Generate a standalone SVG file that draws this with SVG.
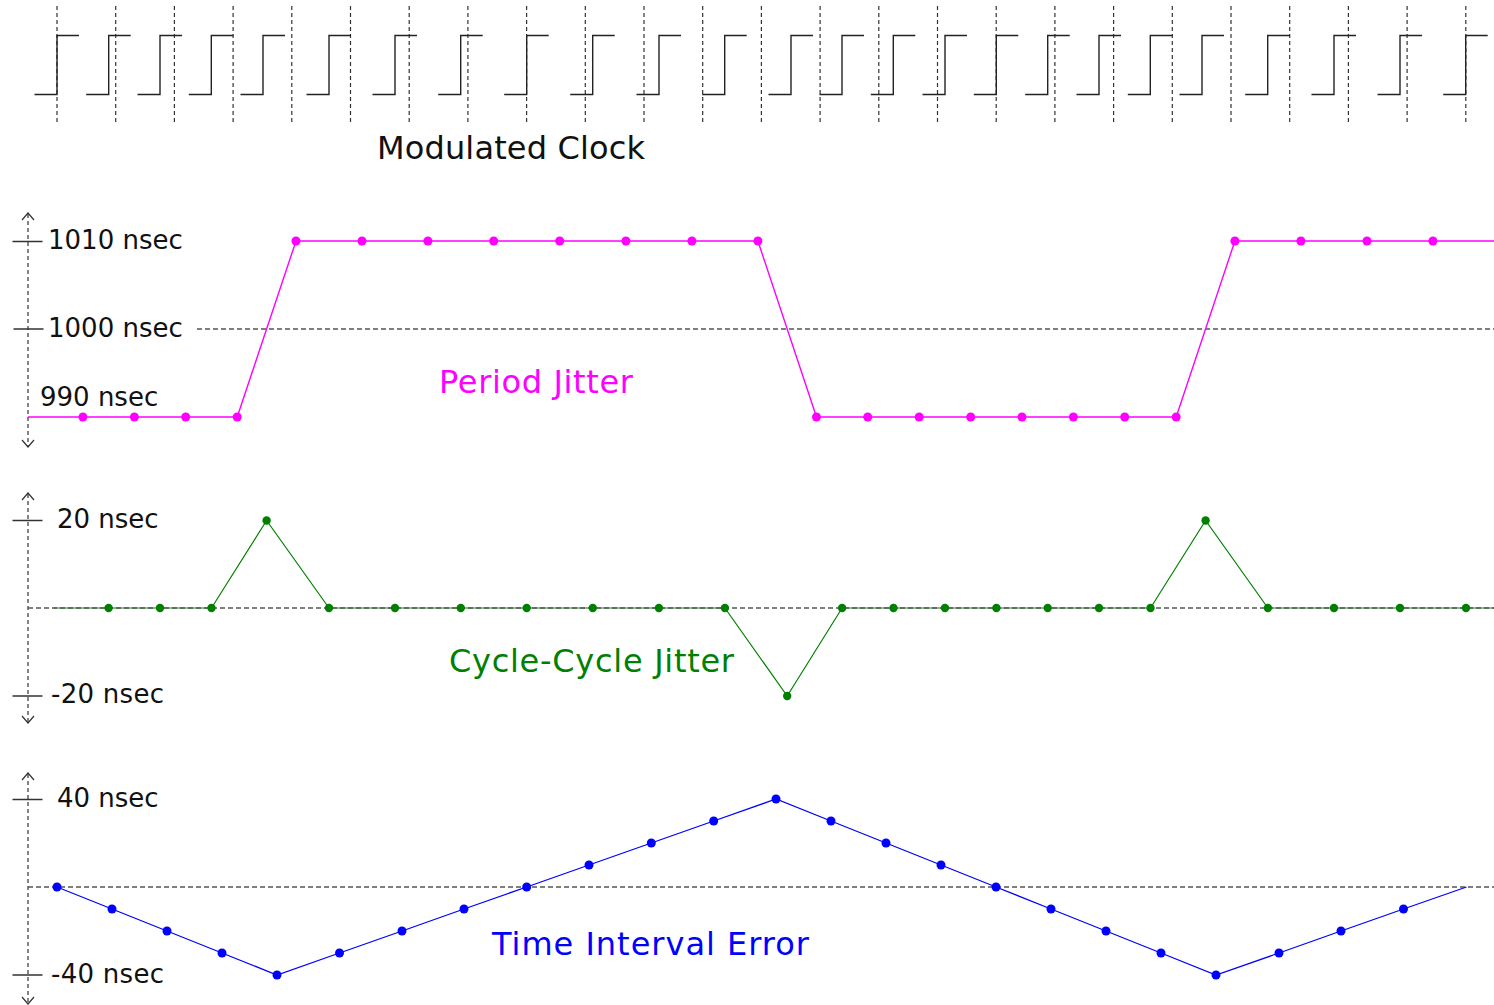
<svg xmlns="http://www.w3.org/2000/svg" width="1494" height="1005" viewBox="0 0 1494 1005">
<style>
  .lbl{font-family:"DejaVu Sans","Liberation Sans",sans-serif;font-size:26px;fill:#111}
  .title{font-family:"DejaVu Sans","Liberation Sans",sans-serif;font-size:32px}
  .grid{stroke:#333;stroke-width:1.2;stroke-dasharray:4 3;fill:none}
  .ref{stroke:#555;stroke-width:1.3;stroke-dasharray:5 3;fill:none}
  .axis{stroke:#333;stroke-width:1.2;stroke-dasharray:4 3;fill:none}
  .head{stroke:#333;stroke-width:1.2;fill:none}
  .tick{stroke:#333;stroke-width:1.3;fill:none}
  .clk{stroke:#222;stroke-width:1.4;fill:none}
  .pj{stroke:#ff00ff;stroke-width:1.4;fill:none}
  .cj{stroke:#008000;stroke-width:1.2;fill:none}
  .ti{stroke:#0000ff;stroke-width:1.3;fill:none}
</style>
<rect width="1494" height="1005" fill="#ffffff"/>

<g id="clock">
  <path class="grid" d="M57 6V124M115.7 6V124M174.4 6V124M233.1 6V124M291.8 6V124M350.5 6V124M409.2 6V124M467.9 6V124M526.6 6V124M585.3 6V124M644 6V124M702.7 6V124M761.4 6V124M820.1 6V124M878.8 6V124M937.5 6V124M996.2 6V124M1054.9 6V124M1113.6 6V124M1172.3 6V124M1231 6V124M1289.7 6V124M1348.4 6V124M1407.1 6V124M1465.8 6V124"/>
  <path class="clk" d="M34.5 94.5H57V35.5H79 M86.2 94.5H108.7V35.5H130.7 M137.5 94.5H160V35.5H182 M188.8 94.5H211.3V35.5H233.3 M240.5 94.5H263V35.5H285 M306.5 94.5H329V35.5H351 M372.5 94.5H395V35.5H417 M438.2 94.5H460.7V35.5H482.7 M504.2 94.5H526.7V35.5H548.7 M570.2 94.5H592.7V35.5H614.7 M636.5 94.5H659V35.5H681 M702.2 94.5H724.7V35.5H746.7 M768.5 94.5H791V35.5H813 M819.5 94.5H842V35.5H864 M870.8 94.5H893.3V35.5H915.3 M922.5 94.5H945V35.5H967 M973.8 94.5H996.3V35.5H1018.3 M1025.2 94.5H1047.7V35.5H1069.7 M1076.5 94.5H1099V35.5H1121 M1127.8 94.5H1150.3V35.5H1172.3 M1179.5 94.5H1202V35.5H1224 M1245.2 94.5H1267.7V35.5H1289.7 M1311.5 94.5H1334V35.5H1356 M1377.5 94.5H1400V35.5H1422 M1443.2 94.5H1465.7V35.5H1487.7"/>
  <text class="title" x="377" y="159" fill="#111" textLength="268" lengthAdjust="spacing">Modulated Clock</text>
</g>

<g id="period-jitter">
  <path class="axis" d="M28 214V446"/>
  <path class="head" d="M22 220L28 213L34 220M22 440L28 447L34 440"/>
  <path class="tick" d="M12.5 241.5H42.5M13.5 329H43.5"/>
  <path class="ref" d="M197 329H1494"/>
  <polyline class="pj" points="28,417 82.9,417 134.4,417 185.7,417 237.2,417 296,241 362,241 427.9,241 493.7,241 559.7,241 625.9,241 691.9,241 757.9,241 816.5,417 867.7,417 919.2,417 970.7,417 1022,417 1073.4,417 1124.7,417 1176.2,417 1234.9,241 1300.9,241 1367,241 1432.9,241 1494,241"/>
  <g fill="#ff00ff">
    <circle cx="82.9" cy="417" r="4.5"/><circle cx="134.4" cy="417" r="4.5"/><circle cx="185.7" cy="417" r="4.5"/><circle cx="237.2" cy="417" r="4.5"/>
    <circle cx="296" cy="241" r="4.5"/><circle cx="362" cy="241" r="4.5"/><circle cx="427.9" cy="241" r="4.5"/><circle cx="493.7" cy="241" r="4.5"/><circle cx="559.7" cy="241" r="4.5"/><circle cx="625.9" cy="241" r="4.5"/><circle cx="691.9" cy="241" r="4.5"/><circle cx="757.9" cy="241" r="4.5"/>
    <circle cx="816.5" cy="417" r="4.5"/><circle cx="867.7" cy="417" r="4.5"/><circle cx="919.2" cy="417" r="4.5"/><circle cx="970.7" cy="417" r="4.5"/><circle cx="1022" cy="417" r="4.5"/><circle cx="1073.4" cy="417" r="4.5"/><circle cx="1124.7" cy="417" r="4.5"/><circle cx="1176.2" cy="417" r="4.5"/>
    <circle cx="1234.9" cy="241" r="4.5"/><circle cx="1300.9" cy="241" r="4.5"/><circle cx="1367" cy="241" r="4.5"/><circle cx="1432.9" cy="241" r="4.5"/>
  </g>
  <text class="lbl" x="48" y="249">1010 nsec</text>
  <text class="lbl" x="48" y="337">1000 nsec</text>
  <text class="lbl" x="40" y="406">990 nsec</text>
  <text class="title" x="439" y="393" fill="#ff00ff" textLength="194" lengthAdjust="spacing">Period Jitter</text>
</g>

<g id="cycle-jitter">
  <path class="axis" d="M28 494V722"/>
  <path class="head" d="M22 500L28 493L34 500M22 716L28 723L34 716"/>
  <path class="tick" d="M12.5 520.5H42.5M12.5 696H42.5"/>
  <polyline class="cj" points="54,608 108.6,608 160,608 211.5,608 266.6,520.5 329,608 395,608 460.8,608 526.7,608 592.8,608 658.9,608 724.9,608 787.2,696 842.1,608 893.5,608 945,608 996.4,608 1047.7,608 1099,608 1150.5,608 1205.6,520.5 1267.9,608 1334,608 1400,608 1466,608 1494,608"/>
  <path class="ref" d="M28 608H1494"/>
  <g fill="#008000">
    <circle cx="108.6" cy="608" r="4.2"/><circle cx="160" cy="608" r="4.2"/><circle cx="211.5" cy="608" r="4.2"/><circle cx="266.6" cy="520.5" r="4.2"/><circle cx="329" cy="608" r="4.2"/><circle cx="395" cy="608" r="4.2"/><circle cx="460.8" cy="608" r="4.2"/><circle cx="526.7" cy="608" r="4.2"/><circle cx="592.8" cy="608" r="4.2"/><circle cx="658.9" cy="608" r="4.2"/><circle cx="724.9" cy="608" r="4.2"/><circle cx="787.2" cy="696" r="4.2"/>
    <circle cx="842.1" cy="608" r="4.2"/><circle cx="893.5" cy="608" r="4.2"/><circle cx="945" cy="608" r="4.2"/><circle cx="996.4" cy="608" r="4.2"/><circle cx="1047.7" cy="608" r="4.2"/><circle cx="1099" cy="608" r="4.2"/><circle cx="1150.5" cy="608" r="4.2"/><circle cx="1205.6" cy="520.5" r="4.2"/><circle cx="1267.9" cy="608" r="4.2"/><circle cx="1334" cy="608" r="4.2"/><circle cx="1400" cy="608" r="4.2"/><circle cx="1466" cy="608" r="4.2"/>
  </g>
  <text class="lbl" x="57" y="528">20 nsec</text>
  <text class="lbl" x="51" y="703" textLength="113" lengthAdjust="spacing">-20 nsec</text>
  <text class="title" x="449" y="672" fill="#008000" textLength="285" lengthAdjust="spacing">Cycle-Cycle Jitter</text>
</g>

<g id="time-interval-error">
  <path class="axis" d="M28 774V1002"/>
  <path class="head" d="M22 780L28 773L34 780M22 997L28 1004L34 997"/>
  <path class="tick" d="M12.5 799.5H42.5M12.5 975H42.5"/>
  <path class="ref" d="M28 887H1494"/>
  <polyline class="ti" points="57,887 112,909 167,931 222,953 277,975 339.5,953 402,931 464,909 526.7,887 589,865 651.3,843 713.7,821 776,799 831,821 886,843 941,865 996,887 1051,909 1106,931 1161,953 1216,975 1279,953 1341,931 1403.5,909 1466.5,887"/>
  <g fill="#0000ff">
    <circle cx="57" cy="887" r="4.5"/><circle cx="112" cy="909" r="4.5"/><circle cx="167" cy="931" r="4.5"/><circle cx="222" cy="953" r="4.5"/><circle cx="277" cy="975" r="4.5"/><circle cx="339.5" cy="953" r="4.5"/><circle cx="402" cy="931" r="4.5"/><circle cx="464" cy="909" r="4.5"/><circle cx="526.7" cy="887" r="4.5"/><circle cx="589" cy="865" r="4.5"/><circle cx="651.3" cy="843" r="4.5"/><circle cx="713.7" cy="821" r="4.5"/><circle cx="776" cy="799" r="4.5"/>
    <circle cx="831" cy="821" r="4.5"/><circle cx="886" cy="843" r="4.5"/><circle cx="941" cy="865" r="4.5"/><circle cx="996" cy="887" r="4.5"/><circle cx="1051" cy="909" r="4.5"/><circle cx="1106" cy="931" r="4.5"/><circle cx="1161" cy="953" r="4.5"/><circle cx="1216" cy="975" r="4.5"/><circle cx="1279" cy="953" r="4.5"/><circle cx="1341" cy="931" r="4.5"/><circle cx="1403.5" cy="909" r="4.5"/>
  </g>
  <text class="lbl" x="57" y="807">40 nsec</text>
  <text class="lbl" x="51" y="983" textLength="113" lengthAdjust="spacing">-40 nsec</text>
  <text class="title" x="492" y="955" fill="#0000ff" textLength="317" lengthAdjust="spacing">Time Interval Error</text>
</g>
</svg>
